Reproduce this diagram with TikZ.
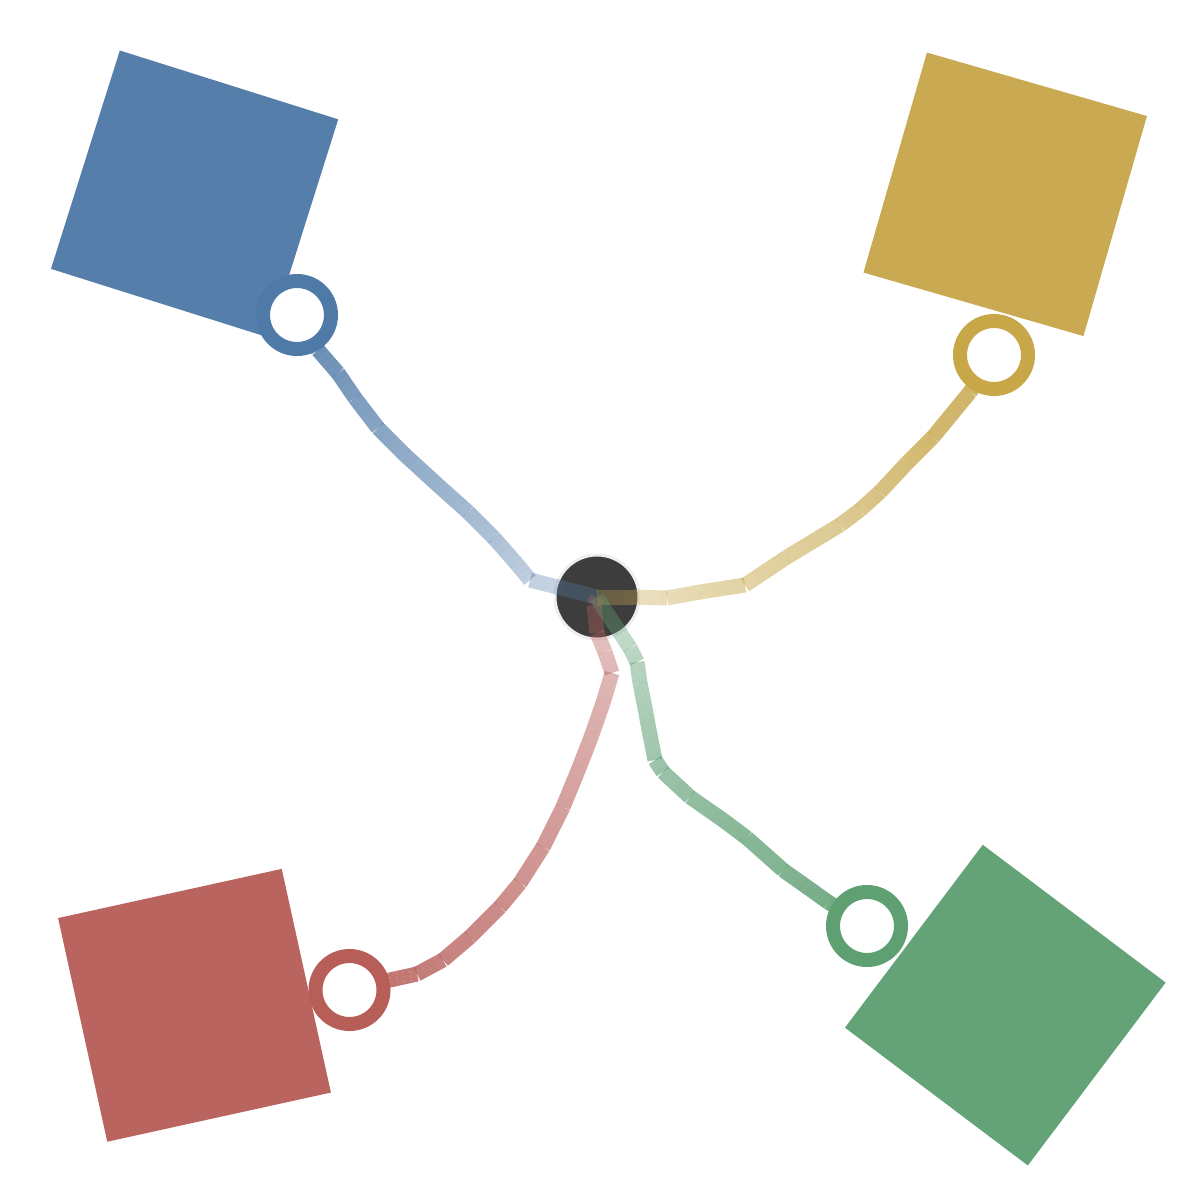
\documentclass[tikz,border=0pt]{standalone}
\usetikzlibrary{calc}
\definecolor{cblue}{HTML}{557EAA}
\definecolor{rblue}{HTML}{4F79A7}
\definecolor{cyel}{HTML}{C9AA52}
\definecolor{ryel}{HTML}{C8A748}
\definecolor{cred}{HTML}{B9645F}
\definecolor{rred}{HTML}{B85E58}
\definecolor{cgreen}{HTML}{64A278}
\definecolor{rgreen}{HTML}{5EA071}
\definecolor{hubgray}{HTML}{3D3D3D}
\definecolor{hubedge}{HTML}{EEEEEE}
\pgfdeclarelayer{fg}
\pgfsetlayers{main,fg}
\newcommand\gpath[3]{%
  \foreach \p [count=\i, remember=\p as \q (initially X)] in {#3} {%
    \ifnum\i>1
      \path \q coordinate (gA);
      \path \p coordinate (gB);
      \foreach \k in {0,1,2,3} {%
        \pgfmathsetmacro\op{0.92-0.62*((\i-2)+\k/4)/(#2)}%
        \pgfmathsetmacro\ta{\k/4}%
        \pgfmathsetmacro\tb{(\k+1)/4}%
        \draw[#1, line width=15pt, opacity=\op] ($(gA)!\ta!(gB)$) -- ($(gA)!\tb!(gB)$);
      }%
    \fi
  }%
}
\begin{document}
\begin{tikzpicture}[x=1pt,y=-1pt,
  sq/.style={rectangle, inner sep=0pt, minimum width=229pt, minimum height=229pt},
  ringnode/.style={circle, inner sep=0pt, minimum size=68pt, line width=14pt, fill=white},
  hubnode/.style={circle, inner sep=0pt, minimum size=84pt, fill=hubgray, draw=hubedge, line width=3pt}]
\useasboundingbox (0,0) rectangle (1200,1200);
\fill[white] (0,0) rectangle (1200,1200);
% squares
\node[sq, fill=cblue, rotate=-17.5] (sqb) at (194.6,194.1) {};
\node[sq, fill=cyel, rotate=-16.1] (sqy) at (1005.2,194.3) {};
\node[sq, fill=cred, rotate=12.4] (sqr) at (194.5,1005.3) {};
\node[sq, fill=cgreen, rotate=-37] (sqg) at (1005.3,1005.1) {};
% rings
\begin{pgfonlayer}{fg}
\node[ringnode, draw=rblue] (rb) at (297,315) {};
\node[ringnode, draw=ryel] (ry) at (994,355) {};
\node[ringnode, draw=rred] (rr) at (349.5,990) {};
\node[ringnode, draw=rgreen] (rg) at (867,926) {};
\end{pgfonlayer}
% hub
\node[hubnode] (hub) at (597,597) {};
% connectors
\gpath{cblue}{11}{(rb.center),(318,350),(338,373),(355,398),(378,428),(405,455),(440,487),(468,512),(494,538),(516,563),(530,580),(hub.center)}
\gpath{cyel}{12}{(ry.center),(970,392),(933,437),(907,463),(880,492),(860,510),(840,525),(787,557),(745,585),(700,592),(667,598),(633,597),(hub.center)}
\gpath{cred}{16}{(rr.center),(390,980),(417,974),(443,960),(470,937),(500,907),(520,883),(543,847),(563,807),(577,773),(590,740),(603,703),(612,673),(605,652),(597,633),(594,605),(hub.center)}
\gpath{cgreen}{16}{(rg.center),(828,902),(807,887),(783,870),(747,838),(723,820),(690,797),(663,772),(655,760),(650,735),(645,708),(640,683),(637,662),(630,648),(617,628),(602,606),(hub.center)}
\end{tikzpicture}
\end{document}
